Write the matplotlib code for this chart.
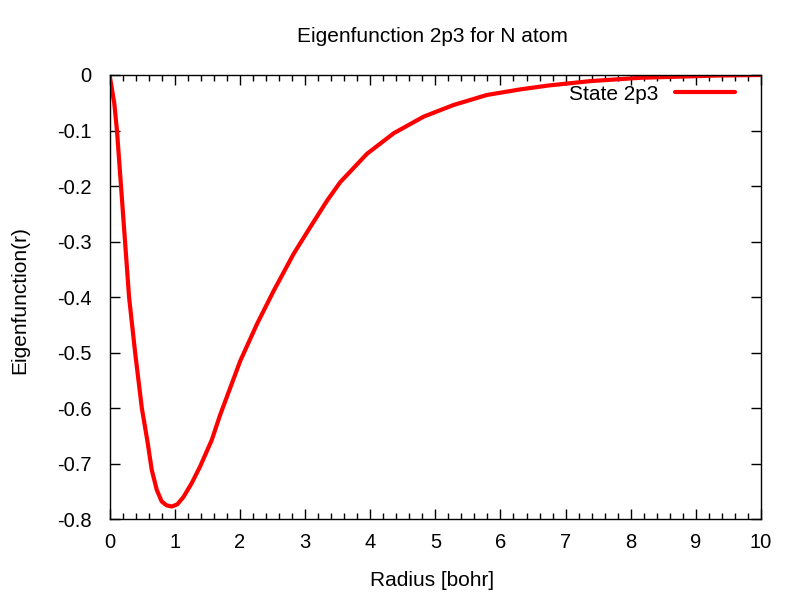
import matplotlib
matplotlib.use("Agg")
import matplotlib.pyplot as plt
from matplotlib.ticker import MultipleLocator

radius = [0.0, 0.072, 0.113, 0.175, 0.237, 0.299, 0.392, 0.495, 0.58, 0.647, 0.724,
          0.80, 0.877, 0.954, 1.04, 1.133, 1.26, 1.389, 1.569, 1.697, 2.005, 2.26,
          2.517, 2.825, 3.08, 3.34, 3.54, 3.95, 4.36, 4.82, 5.28, 5.79, 6.30, 6.73,
          7.38, 8.15, 9.32, 10.0]
eigen = [0.0, -0.051, -0.1, -0.2, -0.3, -0.4, -0.5, -0.6, -0.659, -0.711, -0.747,
         -0.768, -0.775, -0.777, -0.773, -0.760, -0.735, -0.705, -0.657, -0.612, -0.515, -0.449,
         -0.389, -0.322, -0.274, -0.226, -0.193, -0.142, -0.105, -0.075, -0.054, -0.036, -0.026, -0.019,
         -0.011, -0.005, -0.001, 0.0]

xticks = list(range(0, 11))
yticks = [0, -0.1, -0.2, -0.3, -0.4, -0.5, -0.6, -0.7, -0.8]
yticklabels = ["0", "-0.1", "-0.2", "-0.3", "-0.4", "-0.5", "-0.6", "-0.7", "-0.8"]

plt.rcParams['font.family'] = ['Liberation Sans', 'DejaVu Sans']

fig = plt.figure(figsize=(8, 6), dpi=100)
ax = fig.add_axes([0.137, 0.1345, 0.8143, 0.7405])

ax.plot(radius, eigen, color='#ff0000', lw=3, label='State 2p3',
        solid_joinstyle='round', solid_capstyle='round')

ax.set_xlim(0, 10)
ax.set_ylim(-0.8, 0)
ax.set_xticks(xticks)
ax.set_yticks(yticks)
ax.set_yticklabels(yticklabels)
ax.xaxis.set_minor_locator(MultipleLocator(0.2))
ax.tick_params(which='both', direction='in', top=True, right=True, labelsize=14.5, width=1)
ax.tick_params(axis='y', pad=13)
ax.tick_params(axis='x', pad=10)
ax.tick_params(which='major', length=7)
ax.tick_params(which='minor', length=4)
for s in ax.spines.values():
    s.set_linewidth(1)

fig.text(0.54, 1 - 37 / 600, 'Eigenfunction 2p3 for N atom', fontsize=15, ha='center', va='center')
fig.text(0.54, 1 - 580 / 600, 'Radius [bohr]', fontsize=15, ha='center', va='center')
fig.text(20 / 800, 0.5, 'Eigenfunction(r)', fontsize=15, ha='center', va='center', rotation=90)

ax.legend(loc='center right', frameon=False, fontsize=15, markerfirst=False,
          handlelength=2.9, handletextpad=0.77, borderpad=0, borderaxespad=0,
          bbox_to_anchor=(0.960, 0.957))

fig.savefig('out.png', dpi=100, facecolor='white')
